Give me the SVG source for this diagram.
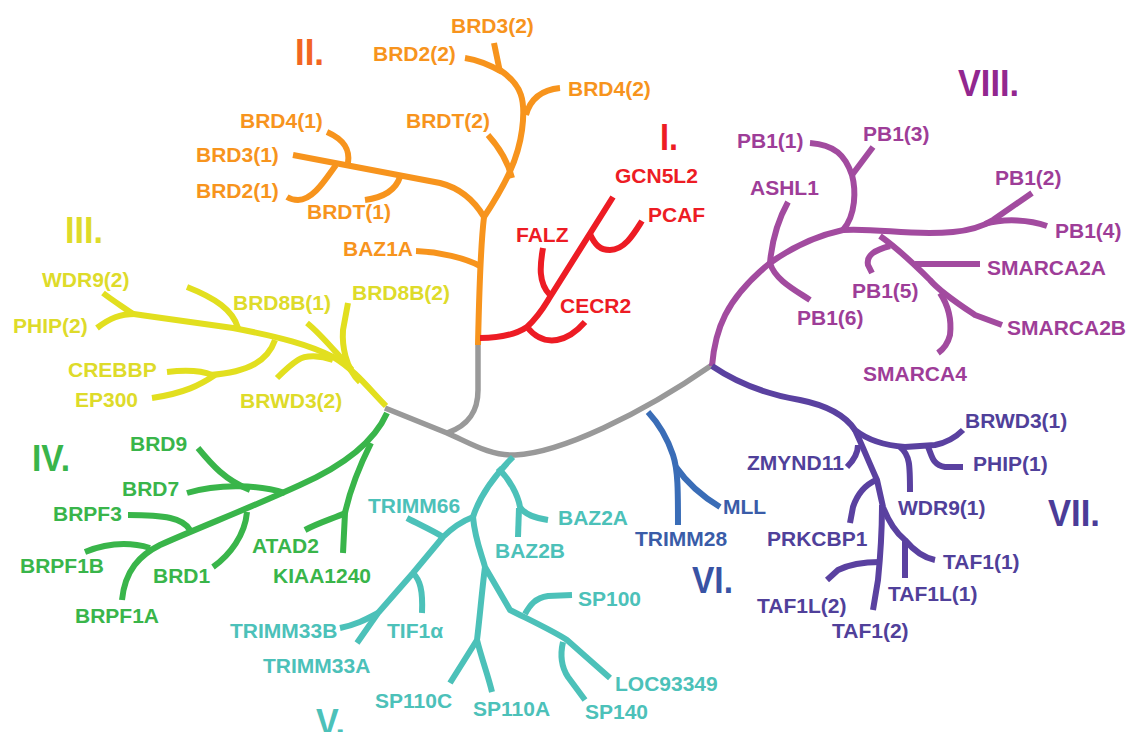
<svg xmlns="http://www.w3.org/2000/svg" width="1131" height="732" viewBox="0 0 1131 732">
<style>
path{fill:none;stroke-width:6;stroke-linecap:butt;stroke-linejoin:round}
.g{stroke:#999999;stroke-width:5.5}
.o{stroke:#f7941d}.r{stroke:#ed1c24}.p{stroke:#a24b9f}.y{stroke:#e2df1f}
.gr{stroke:#39b54a}.t{stroke:#4cc1b9}.b{stroke:#3a6db7}.v{stroke:#5a41a0}
text{font-family:"Liberation Sans",Arial,sans-serif;font-weight:bold;font-size:21px}
.ro{font-size:37px}
.to{fill:#f7941d}.tr{fill:#ed1c24}.tp{fill:#9e3d98}.ty{fill:#dedb2a}
.tg{fill:#39b54a}.tt{fill:#4cc1b9}.tb{fill:#3a5ca8}.tv{fill:#50409a}
</style>
<rect width="1131" height="732" fill="#ffffff"/>
<g id="connectors">
<path class="g" d="M385,408 L447,433 C470,443 490,456 515,455 C560,453 640,415 712,365"/>
<path class="g" d="M447,433 C470,425 478,410 478,390 L478,343"/>
<path class="o" d="M478,345 C479,300 480,250 484,217"/>
<path class="o" d="M416,251 C440,252 465,258 480,266"/>
<path class="o" d="M484,217 Q468,190 440,183 L293,155"/>
<path class="o" d="M348,163 C350,150 345,140 327,132"/>
<path class="o" d="M336,165 C325,180 313,200 298,200 Q292,200 287,197"/>
<path class="o" d="M400,177 C395,192 380,198 365,200"/>
<path class="o" d="M484,217 C505,185 518,160 522,130 C526,100 522,85 500,70"/>
<path class="o" d="M500,72 L494,43"/>
<path class="o" d="M502,72 C490,65 478,60 465,58"/>
<path class="o" d="M512,178 C507,158 497,145 488,135"/>
<path class="o" d="M526,115 C530,100 540,90 560,88"/>
<path class="r" d="M480,338 C500,338 515,335 527,327 C540,315 545,305 550,297 L613,197"/>
<path class="r" d="M543,248 C540,265 538,283 550,295"/>
<path class="r" d="M527,327 C535,337 545,342 557,340 C568,338 578,330 585,322"/>
<path class="r" d="M590,234 C595,245 600,250 610,250 C625,250 635,232 642,221"/>
<path class="p" d="M712,366 C715,330 725,300 770,263 C795,245 820,235 843,230 C880,228 910,236 953,232 C975,230 985,225 993,220 L1032,193"/>
<path class="p" d="M985,224 C1005,218 1030,220 1047,226"/>
<path class="p" d="M770,263 C772,240 778,220 788,202"/>
<path class="p" d="M770,263 C775,280 795,290 810,300"/>
<path class="p" d="M843,230 C856,215 856,190 852,175 C845,155 835,145 810,143"/>
<path class="p" d="M852,175 L873,147"/>
<path class="p" d="M880,236 C900,250 915,265 930,280 C940,292 960,305 975,315 L1002,325"/>
<path class="p" d="M940,293 C948,305 952,318 950,335 C948,343 945,348 938,353"/>
<path class="p" d="M915,264 L980,264"/>
<path class="p" d="M890,246 C875,250 866,255 868,265 L872,273"/>
<path class="y" d="M386,406 C370,390 355,370 333,357 C310,345 280,337 233,328 C190,322 160,318 127,313"/>
<path class="y" d="M133,314 C120,305 112,300 103,293"/>
<path class="y" d="M135,314 C120,314 110,318 97,328"/>
<path class="y" d="M238,328 C233,310 215,298 187,287"/>
<path class="y" d="M360,382 C345,368 342,345 343,330 L348,303"/>
<path class="y" d="M352,370 C335,352 322,335 307,323"/>
<path class="y" d="M333,360 C320,355 305,355 298,360 C290,365 283,372 277,378"/>
<path class="y" d="M275,340 C268,360 250,372 210,375"/>
<path class="y" d="M212,375 C200,370 185,370 167,372"/>
<path class="y" d="M215,375 C200,385 185,393 152,398"/>
<path class="gr" d="M387,413 C375,440 345,465 300,485 C250,508 200,527 160,545 C140,555 125,570 122,600"/>
<path class="gr" d="M150,548 C130,542 110,542 85,552"/>
<path class="gr" d="M190,530 C183,518 165,515 128,515"/>
<path class="gr" d="M247,512 C245,535 230,555 213,567"/>
<path class="gr" d="M285,493 C260,485 220,483 187,493"/>
<path class="gr" d="M198,448 C212,465 225,480 250,490"/>
<path class="gr" d="M371,443 C360,465 350,490 345,513 L343,553"/>
<path class="gr" d="M345,513 C335,518 320,522 305,530"/>
<path class="t" d="M513,457 C495,475 480,495 473,517"/>
<path class="t" d="M498,468 C510,480 518,495 520,507 C525,515 535,518 548,520"/>
<path class="t" d="M519,508 L518,537"/>
<path class="t" d="M473,517 C460,522 450,530 443,537 L413,573 L378,613 L357,643"/>
<path class="t" d="M443,537 C432,530 420,525 407,518"/>
<path class="t" d="M413,573 C420,580 423,590 422,613"/>
<path class="t" d="M378,613 C365,620 355,625 340,628"/>
<path class="t" d="M473,517 C475,540 482,555 485,567 L510,610 C540,625 555,632 567,640 L610,678"/>
<path class="t" d="M525,614 C530,605 535,598 548,596 L572,595"/>
<path class="t" d="M563,642 C560,655 562,668 568,677 L585,700"/>
<path class="t" d="M485,567 C482,590 480,615 477,640 L450,683"/>
<path class="t" d="M477,640 C482,660 488,675 492,692"/>
<path class="b" d="M648,412 C660,425 668,440 673,455 C678,470 678,490 678,525"/>
<path class="b" d="M676,467 C685,480 700,495 720,507"/>
<path class="v" d="M712,366 C740,385 770,395 800,400 C825,405 845,415 855,430 C865,438 880,445 905,447 L935,445 C945,443 955,438 963,430"/>
<path class="v" d="M928,447 C932,455 932,465 945,467 L963,467"/>
<path class="v" d="M900,447 C910,455 910,465 910,492"/>
<path class="v" d="M855,430 C862,445 868,460 877,480 L883,507 C888,520 895,532 905,540 C915,552 925,558 935,560"/>
<path class="v" d="M905,540 L905,578"/>
<path class="v" d="M858,445 C858,455 852,462 847,467"/>
<path class="v" d="M876,480 C865,485 857,495 853,507 L850,523"/>
<path class="v" d="M882,505 C882,530 880,560 878,580 L873,610"/>
<path class="v" d="M880,562 C865,562 848,565 838,570 L827,580"/>
</g>
<g id="clade-I"><text class="ro" x="660" y="150" fill="#ed1c24" textLength="18" lengthAdjust="spacingAndGlyphs">I.</text></g>
<g id="clade-II"><text class="ro" x="295" y="65" fill="#f26522" textLength="29" lengthAdjust="spacingAndGlyphs">II.</text></g>
<g id="clade-III"><text class="ro" x="65" y="243" fill="#dedb2a" textLength="38" lengthAdjust="spacingAndGlyphs">III.</text></g>
<g id="clade-IV"><text class="ro" x="32" y="471" fill="#39b54a" textLength="38" lengthAdjust="spacingAndGlyphs">IV.</text></g>
<g id="clade-V"><text class="ro" x="316" y="735" fill="#4cc1b9" textLength="29" lengthAdjust="spacingAndGlyphs">V.</text></g>
<g id="clade-VI"><text class="ro" x="692" y="593" fill="#3953a4" textLength="41" lengthAdjust="spacingAndGlyphs">VI.</text></g>
<g id="clade-VII"><text class="ro" x="1048" y="526" fill="#4b3c98" textLength="52" lengthAdjust="spacingAndGlyphs">VII.</text></g>
<g id="clade-VIII"><text class="ro" x="958" y="96" fill="#92278f" textLength="61" lengthAdjust="spacingAndGlyphs">VIII.</text></g>
<g id="BRD3_2"><text class="to" x="451" y="33">BRD3(2)</text></g>
<g id="BRD2_2"><text class="to" x="373" y="61">BRD2(2)</text></g>
<g id="BRD4_2"><text class="to" x="568" y="96">BRD4(2)</text></g>
<g id="BRD4_1"><text class="to" x="240" y="128">BRD4(1)</text></g>
<g id="BRDT_2"><text class="to" x="406" y="128">BRDT(2)</text></g>
<g id="BRD3_1"><text class="to" x="196" y="162">BRD3(1)</text></g>
<g id="BRD2_1"><text class="to" x="196" y="198">BRD2(1)</text></g>
<g id="BRDT_1"><text class="to" x="307" y="219">BRDT(1)</text></g>
<g id="BAZ1A"><text class="to" x="343" y="256">BAZ1A</text></g>
<g id="GCN5L2"><text class="tr" x="615" y="183">GCN5L2</text></g>
<g id="PCAF"><text class="tr" x="648" y="222">PCAF</text></g>
<g id="FALZ"><text class="tr" x="516" y="242">FALZ</text></g>
<g id="CECR2"><text class="tr" x="560" y="313">CECR2</text></g>
<g id="PB1_1"><text class="tp" x="737" y="148">PB1(1)</text></g>
<g id="PB1_3"><text class="tp" x="863" y="141">PB1(3)</text></g>
<g id="ASHL1"><text class="tp" x="750" y="195">ASHL1</text></g>
<g id="PB1_2"><text class="tp" x="995" y="185">PB1(2)</text></g>
<g id="PB1_4"><text class="tp" x="1055" y="238">PB1(4)</text></g>
<g id="SMARCA2A"><text class="tp" x="987" y="275">SMARCA2A</text></g>
<g id="PB1_5"><text class="tp" x="852" y="298">PB1(5)</text></g>
<g id="PB1_6"><text class="tp" x="797" y="325">PB1(6)</text></g>
<g id="SMARCA2B"><text class="tp" x="1007" y="335">SMARCA2B</text></g>
<g id="SMARCA4"><text class="tp" x="863" y="381">SMARCA4</text></g>
<g id="WDR9_2"><text class="ty" x="42" y="287">WDR9(2)</text></g>
<g id="PHIP_2"><text class="ty" x="13" y="333">PHIP(2)</text></g>
<g id="BRD8B_1"><text class="ty" x="233" y="310">BRD8B(1)</text></g>
<g id="BRD8B_2"><text class="ty" x="352" y="300">BRD8B(2)</text></g>
<g id="CREBBP"><text class="ty" x="68" y="377">CREBBP</text></g>
<g id="EP300"><text class="ty" x="75" y="407">EP300</text></g>
<g id="BRWD3_2"><text class="ty" x="240" y="408">BRWD3(2)</text></g>
<g id="BRD9"><text class="tg" x="130" y="451">BRD9</text></g>
<g id="BRD7"><text class="tg" x="122" y="496">BRD7</text></g>
<g id="BRPF3"><text class="tg" x="53" y="521">BRPF3</text></g>
<g id="BRPF1B"><text class="tg" x="20" y="573">BRPF1B</text></g>
<g id="BRPF1A"><text class="tg" x="75" y="623">BRPF1A</text></g>
<g id="BRD1"><text class="tg" x="153" y="583">BRD1</text></g>
<g id="ATAD2"><text class="tg" x="252" y="553">ATAD2</text></g>
<g id="KIAA1240"><text class="tg" x="273" y="583">KIAA1240</text></g>
<g id="TRIMM66"><text class="tt" x="368" y="513">TRIMM66</text></g>
<g id="BAZ2A"><text class="tt" x="558" y="525">BAZ2A</text></g>
<g id="BAZ2B"><text class="tt" x="495" y="558">BAZ2B</text></g>
<g id="SP100"><text class="tt" x="578" y="606">SP100</text></g>
<g id="TRIMM33B"><text class="tt" x="230" y="638">TRIMM33B</text></g>
<g id="TIF1a"><text class="tt" x="387" y="638">TIF1α</text></g>
<g id="TRIMM33A"><text class="tt" x="263" y="673">TRIMM33A</text></g>
<g id="SP110C"><text class="tt" x="375" y="708">SP110C</text></g>
<g id="SP110A"><text class="tt" x="473" y="716">SP110A</text></g>
<g id="LOC93349"><text class="tt" x="615" y="691">LOC93349</text></g>
<g id="SP140"><text class="tt" x="585" y="719">SP140</text></g>
<g id="MLL"><text class="tb" x="723" y="514">MLL</text></g>
<g id="TRIMM28"><text class="tb" x="635" y="546">TRIMM28</text></g>
<g id="BRWD3_1"><text class="tv" x="965" y="428">BRWD3(1)</text></g>
<g id="ZMYND11"><text class="tv" x="747" y="470">ZMYND11</text></g>
<g id="PHIP_1"><text class="tv" x="973" y="471">PHIP(1)</text></g>
<g id="WDR9_1"><text class="tv" x="898" y="515">WDR9(1)</text></g>
<g id="PRKCBP1"><text class="tv" x="767" y="546">PRKCBP1</text></g>
<g id="TAF1_1"><text class="tv" x="943" y="569">TAF1(1)</text></g>
<g id="TAF1L_1"><text class="tv" x="888" y="601">TAF1L(1)</text></g>
<g id="TAF1L_2"><text class="tv" x="757" y="613">TAF1L(2)</text></g>
<g id="TAF1_2"><text class="tv" x="832" y="638">TAF1(2)</text></g>
</svg>
